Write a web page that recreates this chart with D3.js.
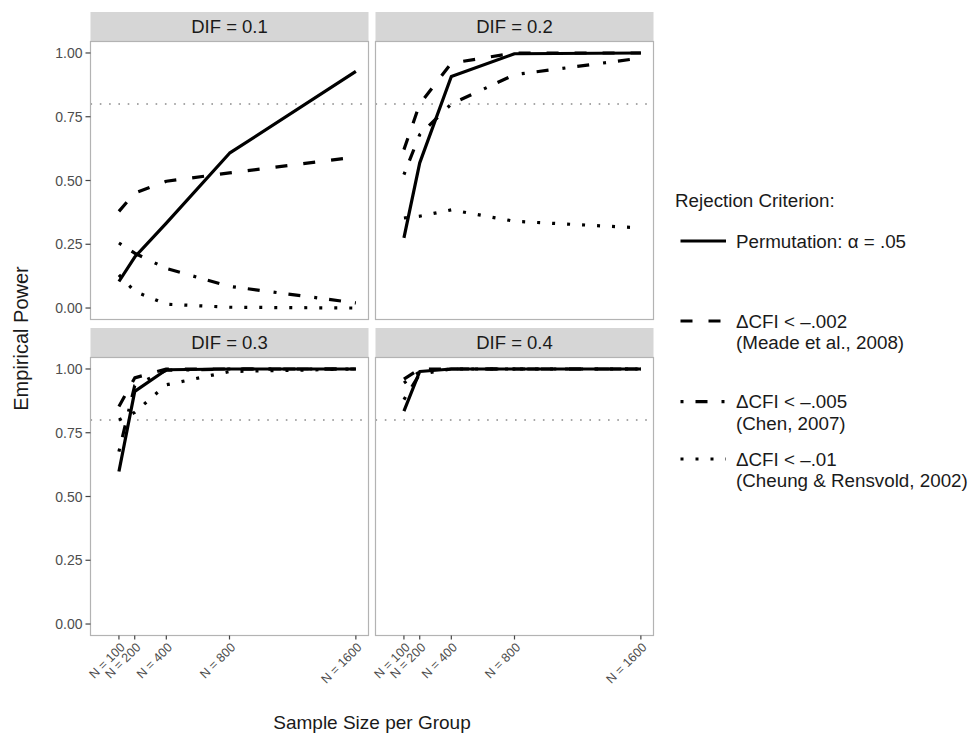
<!DOCTYPE html>
<html>
<head>
<meta charset="utf-8">
<script src="https://cdn.jsdelivr.net/npm/d3@7"></script>
<style>
  body { margin: 0; background: #fff; }
  text { font-family: "Liberation Sans", Arial, sans-serif; }
</style>
</head>
<body>
<svg id="chart" width="970" height="734"></svg>
<script>
// Sample sizes (x) and labels
const sampleSizes = [100, 200, 400, 800, 1600];
const xTickLabels = ["N = 100", "N = 200", "N = 400", "N = 800", "N = 1600"];
const difLevels = ["DIF = 0.1", "DIF = 0.2", "DIF = 0.3", "DIF = 0.4"];
const yTicks = [0, 0.25, 0.5, 0.75, 1];
const yTickLabels = ["0.00", "0.25", "0.50", "0.75", "1.00"];
const targetPower = 0.80;

// Empirical power, one row per DIF level, one value per sample size
const permutation = [
    [0.104, 0.200, 0.333, 0.607, 0.928],
    [0.275, 0.569, 0.908, 0.997, 1.000],
    [0.598, 0.912, 0.997, 1.000, 1.000],
    [0.835, 0.990, 1.000, 1.000, 1.000]
];
const cfi002 = [
    [0.379, 0.451, 0.497, 0.530, 0.592],
    [0.621, 0.800, 0.960, 1.000, 1.000],
    [0.853, 0.965, 1.000, 1.000, 1.000],
    [0.960, 1.000, 1.000, 1.000, 1.000]
];
const cfi005 = [
    [0.255, 0.215, 0.155, 0.085, 0.020],
    [0.523, 0.680, 0.800, 0.915, 0.980],
    [0.676, 0.935, 0.995, 1.000, 1.000],
    [0.880, 0.980, 1.000, 1.000, 1.000]
];
const cfi01 = [
    [0.130, 0.065, 0.015, 0.003, 0.000],
    [0.353, 0.360, 0.385, 0.340, 0.314],
    [0.800, 0.830, 0.938, 0.990, 1.000],
    [0.945, 0.990, 1.000, 1.000, 1.000]
];

const seriesNames = ["Permutation: \u03b1 = .05", "\u0394CFI < \u2013.002", "\u0394CFI < \u2013.005", "\u0394CFI < \u2013.01"];
const seriesNotes = ["", "(Meade et al., 2008)", "(Chen, 2007)", "(Cheung & Rensvold, 2002)"];

const series = [
    { name: seriesNames[0], note: seriesNotes[0], values: permutation, dash: null },
    { name: seriesNames[1], note: seriesNotes[1], values: cfi002, dash: "12,16" },
    { name: seriesNames[2], note: seriesNotes[2], values: cfi005, dash: "3,12,12,14" },
    { name: seriesNames[3], note: seriesNotes[3], values: cfi01, dash: "3,12" }
];

const svg = d3.select("#chart");
svg.append("rect").attr("width", 970).attr("height", 734).attr("fill", "#fff");

// panel layout
const panelW = 278, plotH = 278, stripH = 29.5;
const colLeft = [90.5, 375.5];
const rowTop = [12, 328];

const x = d3.scaleLinear()
    .domain([0 - 80, 1600 + 80])   // 5% expansion of 0..1600
    .range([0, panelW]);
const y = d3.scaleLinear()
    .domain([-0.045, 1.045])
    .range([plotH, 0]);

const lineGen = d3.line()
    .x((d, i) => x(sampleSizes[i]))
    .y(d => y(d));

difLevels.forEach((dif, p) => {
    const col = p % 2, row = Math.floor(p / 2);
    const left = colLeft[col];
    const top = rowTop[row] + stripH;

    // strip
    svg.append("rect")
        .attr("x", left).attr("y", rowTop[row])
        .attr("width", panelW).attr("height", stripH)
        .attr("fill", "#d6d6d6");
    svg.append("text")
        .attr("x", left + panelW / 2).attr("y", rowTop[row] + stripH / 2)
        .attr("dy", "0.36em")
        .attr("text-anchor", "middle")
        .attr("font-size", "18.5px")
        .attr("fill", "#1a1a1a")
        .text(dif);

    const g = svg.append("g").attr("transform", `translate(${left},${top})`);

    // target power reference line
    g.append("line")
        .attr("x1", 0).attr("x2", panelW)
        .attr("y1", y(targetPower)).attr("y2", y(targetPower))
        .attr("stroke", "#8a8a8a")
        .attr("stroke-width", 1.6)
        .attr("stroke-dasharray", "1.6,7.7");

    series.forEach(s => {
        g.append("path")
            .attr("d", lineGen(s.values[p]))
            .attr("fill", "none")
            .attr("stroke", "#000")
            .attr("stroke-width", 3.2)
            .attr("stroke-linejoin", "round")
            .attr("stroke-dasharray", s.dash);
    });

    // panel border
    g.append("rect")
        .attr("width", panelW).attr("height", plotH)
        .attr("fill", "none")
        .attr("stroke", "#b3b3b3")
        .attr("stroke-width", 1.2);

    // y axis on left column
    if (col === 0) {
        yTicks.forEach((t, i) => {
            g.append("line")
                .attr("x1", -5).attr("x2", 0)
                .attr("y1", y(t)).attr("y2", y(t))
                .attr("stroke", "#444").attr("stroke-width", 1.2);
            g.append("text")
                .attr("x", -8).attr("y", y(t))
                .attr("dy", "0.36em")
                .attr("text-anchor", "end")
                .attr("font-size", "14px")
                .attr("fill", "#4d4d4d")
                .text(yTickLabels[i]);
        });
    }

    // x axis on bottom row
    if (row === 1) {
        sampleSizes.forEach((n, i) => {
            g.append("line")
                .attr("x1", x(n)).attr("x2", x(n))
                .attr("y1", plotH).attr("y2", plotH + 4)
                .attr("stroke", "#444").attr("stroke-width", 1.2);
            g.append("text")
                .attr("transform", `translate(${x(n)},${plotH + 6}) rotate(-45)`)
                .attr("dy", "0.75em")
                .attr("text-anchor", "end")
                .attr("font-size", "12.5px")
                .attr("fill", "#4d4d4d")
                .text(xTickLabels[i]);
        });
    }
});

// axis titles
svg.append("text")
    .attr("transform", `translate(21,${(rowTop[0] + stripH + rowTop[1] + stripH + plotH) / 2}) rotate(-90)`)
    .attr("dy", "0.36em")
    .attr("text-anchor", "middle")
    .attr("font-size", "20px")
    .attr("fill", "#1a1a1a")
    .text("Empirical Power");

svg.append("text")
    .attr("x", (colLeft[0] + colLeft[1] + panelW) / 2)
    .attr("y", 729)
    .attr("text-anchor", "middle")
    .attr("font-size", "19px")
    .attr("fill", "#1a1a1a")
    .text("Sample Size per Group");

// legend
const legend = svg.append("g");
legend.append("text")
    .attr("x", 675).attr("y", 200)
    .attr("dy", "0.36em")
    .attr("font-size", "18.8px")
    .attr("fill", "#1a1a1a")
    .text("Rejection Criterion:");

const keyY = [241, 321, 401.7, 459];
series.forEach((s, i) => {
    legend.append("line")
        .attr("x1", 680.5).attr("x2", 726)
        .attr("y1", keyY[i]).attr("y2", keyY[i])
        .attr("stroke", "#000")
        .attr("stroke-width", 3.2)
        .attr("stroke-dasharray", s.dash);
    const t = legend.append("text")
        .attr("x", 736).attr("y", keyY[i])
        .attr("font-size", "18.8px")
        .attr("fill", "#1a1a1a");
    t.append("tspan").attr("x", 736).attr("dy", "0.36em").text(s.name);
    if (s.note) {
        t.append("tspan").attr("x", 736).attr("dy", "1.15em").text(s.note);
    }
});
</script>
</body>
</html>
